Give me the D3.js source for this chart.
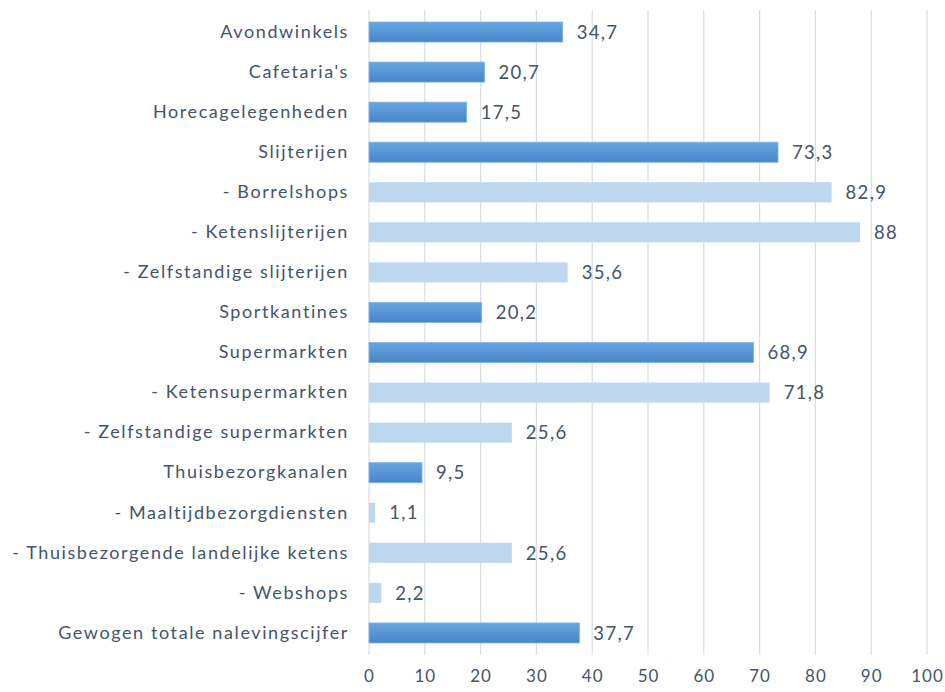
<!DOCTYPE html>
<html>
<head>
<meta charset="utf-8">
<script src="https://cdn.jsdelivr.net/npm/d3@7"></script>
<style>
  body { margin: 0; background: #fff; }
  svg text { font-family: Lato, "Open Sans", sans-serif; fill: #44546a; }
</style>
</head>
<body>
<div id="chart"></div>
<script>
//data
const categories = [
  "Avondwinkels", "Cafetaria's", "Horecagelegenheden", "Slijterijen",
  "- Borrelshops", "- Ketenslijterijen", "- Zelfstandige slijterijen",
  "Sportkantines", "Supermarkten", "- Ketensupermarkten",
  "- Zelfstandige supermarkten", "Thuisbezorgkanalen",
  "- Maaltijdbezorgdiensten", "- Thuisbezorgende landelijke ketens",
  "- Webshops", "Gewogen totale nalevingscijfer"
];
const values = [34.7, 20.7, 17.5, 73.3, 82.9, 88, 35.6, 20.2, 68.9, 71.8, 25.6, 9.5, 1.1, 25.6, 2.2, 37.7];
const xTicks = [0, 10, 20, 30, 40, 50, 60, 70, 80, 90, 100];

const rows = categories.map((c, i) => ({ name: c, value: values[i], sub: c.startsWith("- ") }));

//size
const width = 945, height = 692;
const margin = { top: 12, right: 18, bottom: 38, left: 369 };
const innerHeight = height - margin.top - margin.bottom;

//scale
const xScale = d3.scaleLinear().domain([0, 100]).range([0, 558]);
const yScale = d3.scaleBand().domain(categories).range([0, 641]).paddingInner(0.5).paddingOuter(0.25);

const svg = d3.select("#chart").append("svg")
  .attr("width", width).attr("height", height);

const defs = svg.append("defs");
const grad = defs.append("linearGradient").attr("id", "darkBar")
  .attr("x1", 0).attr("y1", 0).attr("x2", 0).attr("y2", 1);
grad.append("stop").attr("offset", "0%").attr("stop-color", "#68a5e0");
grad.append("stop").attr("offset", "100%").attr("stop-color", "#4686c8");

const g = svg.append("g").attr("transform", `translate(${margin.left},${margin.top})`);

//grid
g.append("g").selectAll("line").data(xTicks).join("line")
  .attr("x1", d => xScale(d)).attr("x2", d => xScale(d))
  .attr("y1", -2).attr("y2", 643)
  .attr("stroke", "#d9dde3").attr("stroke-width", 1.2);

//bars
g.append("g").selectAll("rect").data(rows).join("rect")
  .attr("x", xScale(0))
  .attr("y", d => yScale(d.name))
  .attr("width", d => xScale(d.value) - xScale(0))
  .attr("height", yScale.bandwidth())
  .attr("fill", d => d.sub ? "#bdd7ee" : "url(#darkBar)")
  .attr("stroke", d => d.sub ? "none" : "#7fb3e6")
  .attr("stroke-width", 0.8);

//value labels
g.append("g").selectAll("text").data(rows).join("text")
  .attr("x", d => xScale(d.value) + 14)
  .attr("y", d => yScale(d.name) + yScale.bandwidth() / 2)
  .attr("dy", "0.36em")
  .attr("font-size", 18.5)
  .attr("letter-spacing", 1.3)
  .text(d => String(d.value).replace(".", ","));

//y-axis
const yAxis = g.append("g").call(d3.axisLeft(yScale).tickSize(0).tickPadding(20));
yAxis.select(".domain").remove();
yAxis.selectAll("text")
  .attr("font-size", 18)
  .attr("letter-spacing", 1.6)
  .style("font-family", "Lato, 'Open Sans', sans-serif")
  .attr("fill", "#44546a");

//x-axis
const xAxis = g.append("g").attr("transform", `translate(0,${innerHeight + 12})`)
  .call(d3.axisBottom(xScale).tickValues(xTicks).tickSize(0).tickPadding(4));
xAxis.select(".domain").remove();
xAxis.selectAll("text")
  .attr("font-size", 17)
  .attr("letter-spacing", 1)
  .style("font-family", "Lato, 'Open Sans', sans-serif")
  .attr("fill", "#44546a");
</script>
</body>
</html>
